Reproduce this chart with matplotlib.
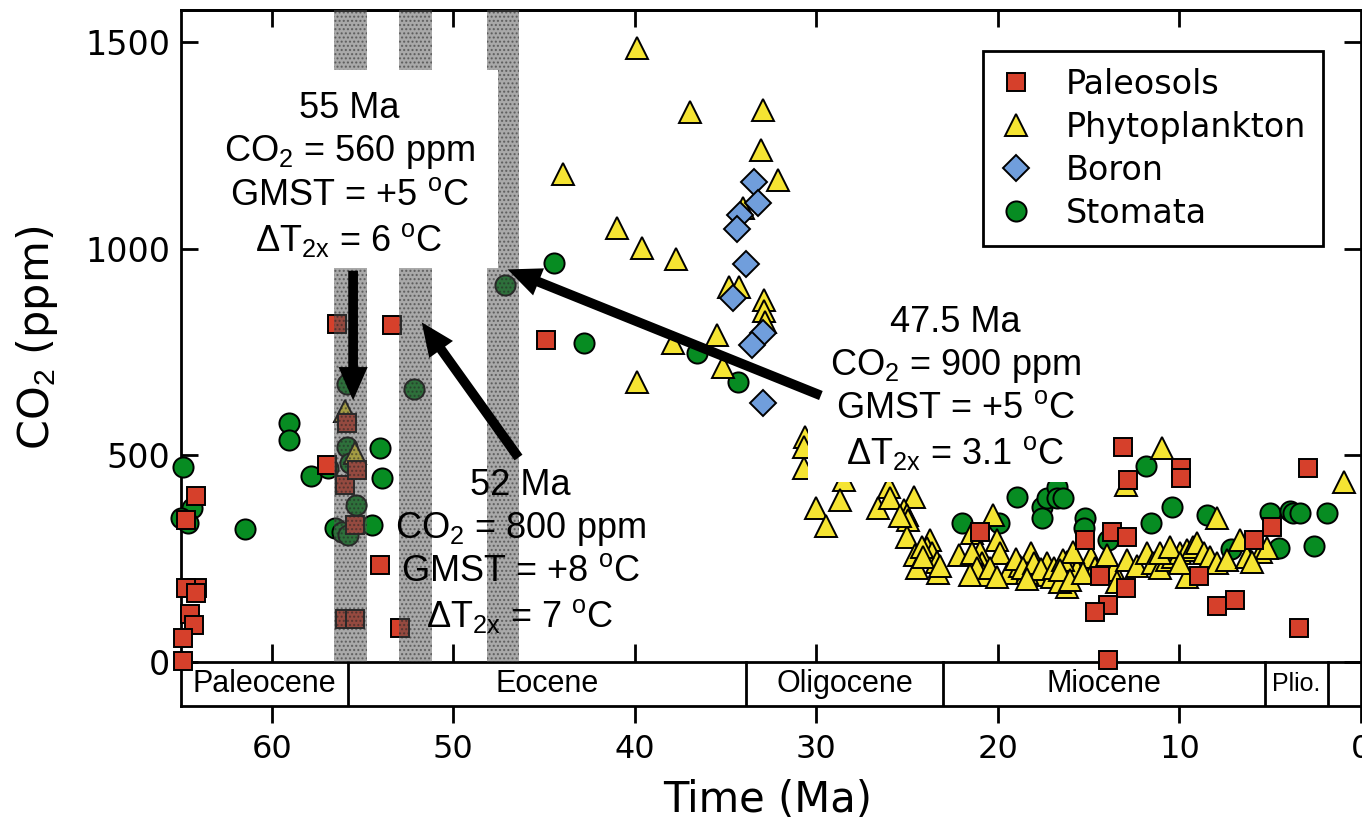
import matplotlib
matplotlib.use('Agg')
import matplotlib.pyplot as plt
from matplotlib.lines import Line2D
from matplotlib.patches import Rectangle, FancyArrowPatch

plt.rcParams['font.family'] = ['DejaVu Sans']
plt.rcParams['mathtext.fontset'] = 'custom'
plt.rcParams['mathtext.rm'] = 'Liberation Sans'
plt.rcParams['mathtext.it'] = 'Liberation Sans:italic'
plt.rcParams['mathtext.bf'] = 'Liberation Sans:bold'

# CO2 proxy data (age in Ma, CO2 in ppm)
paleosol_age = [64.17, 64.7, 64.1, 64.7, 64.2, 64.5, 64.3, 64.9, 64.9,
                56.97, 55.96, 55.32, 55.87, 55.41, 54.04, 55.96, 55.41, 52.93,
                56.4, 53.37, 44.91,
                20.98, 15.19, 13.12, 9.92, 9.92, 12.81, 2.94, 4.91, 13.72, 12.9,
                14.37, 12.93, 13.91, 14.64, 8.95, 7.94, 6.93, 3.44, 13.91, 5.92]
paleosol_co2 = [401, 344, 178, 180, 166, 115, 89, 57, 3,
                477, 428, 464, 577, 331, 235, 103, 103, 81,
                818, 815, 779,
                315, 295, 521, 469, 444, 440, 469, 327, 315, 302,
                208, 178, 138, 120, 208, 136, 150, 81, 5, 295]

phyto_age = [55.96, 55.41,
             39.9, 36.96, 32.92, 33.06, 43.97, 32.13, 34.06, 41.0, 39.58, 37.73,
             34.84, 34.24, 32.88, 32.88, 32.82, 35.45, 37.91, 35.16, 39.9,
             30.6, 30.7, 30.7,
             28.5, 26.02, 30.01, 28.69, 29.46, 26.58, 25.97, 24.61, 25.2, 25.02,
             24.93, 25.02, 23.73, 23.9, 23.64, 24.56, 24.47, 23.28, 23.37, 22.17,
             25.39, 24.19, 24.1, 23.18,
             21.43, 20.25, 20.98, 20.89, 20.8, 20.06, 19.88, 19.42, 18.2, 17.77,
             17.3, 16.75, 16.2, 16.2, 15.65,
             21.43, 21.16, 21.53, 20.43, 20.06, 18.77, 18.41, 16.39,
             19.0, 18.6, 18.0, 17.6, 17.0, 16.9, 18.4,
             10.97, 12.93, 0.92, 7.94,
             16.4, 16.57, 14.9, 14.18, 13.63, 13.44, 12.9, 12.35, 11.8, 11.44,
             11.06, 10.69, 10.33, 9.96, 9.59, 9.23, 9.04, 8.67, 8.3, 9.59,
             7.94, 7.4, 6.65, 6.29, 5.53, 5.17, 6.02, 15.84, 14.64, 14.0,
             11.06, 10.51, 9.96, 16.57, 16.02, 15.29]
phyto_co2 = [606, 505,
             1485, 1331, 1335, 1239, 1181, 1166, 1098, 1049, 1002, 974,
             908, 908, 876, 848, 823, 791, 771, 714, 678,
             545, 469, 520,
             440, 424, 372, 392, 329, 372, 396, 400, 368, 356,
             344, 303, 295, 275, 263, 259, 227, 215, 243, 259,
             352, 279, 255, 231,
             311, 356, 267, 239, 210, 295, 263, 215, 263, 210,
             239, 215, 182, 243, 223,
             263, 227, 210, 227, 206, 231, 215, 215,
             250, 228, 240, 225, 205, 228, 200,
             517, 428, 436, 348,
             247, 194, 255, 239, 223, 194, 247, 231, 263, 239,
             227, 247, 255, 263, 271, 279, 287, 263, 255, 206,
             239, 247, 295, 255, 267, 275, 243, 267, 227, 259,
             263, 279, 239, 223, 198, 215]

boron_age = [33.43, 33.19, 34.2, 34.38, 33.9, 34.58, 32.95, 33.56, 32.92]
boron_co2 = [1162, 1110, 1081, 1047, 962, 880, 795, 767, 626]

stomata_age = [64.9, 64.4, 65.0, 64.6,
               59.05, 59.05, 61.46, 57.85, 56.92, 55.87, 55.69, 54.04, 53.95,
               55.37, 54.46, 56.52, 56.15, 55.78, 52.16, 55.85,
               47.15, 44.45, 42.8, 36.55, 34.33,
               21.99, 19.92, 18.96, 17.58, 17.58, 17.3, 16.75, 16.75, 16.39,
               15.2, 15.25, 13.91, 11.83, 10.42, 11.56, 8.49, 5.04, 3.9, 3.72,
               3.35, 1.88, 4.54, 2.61, 7.17]
stomata_co2 = [471, 372, 348, 336,
               577, 537, 321, 450, 470, 521, 481, 517, 444,
               380, 331, 323, 315, 307, 660, 672,
               912, 966, 771, 747, 678,
               336, 336, 400, 376, 348, 396, 424, 396, 396,
               348, 323, 295, 473, 374, 336, 356, 361, 364, 360,
               361, 361, 275, 281, 273]

# geologic epochs (start, end in Ma)
epoch_names = ['Paleocene', 'Eocene', 'Oligocene', 'Miocene', 'Plio.', '']
epoch_start = [65.0, 55.8, 33.9, 23.0, 5.3, 1.8]
epoch_end = [55.8, 33.9, 23.0, 5.3, 1.8, 0.0]

# hyperthermal events shaded (Ma)
band_start = [56.55, 52.99, 48.16]
band_end = [54.77, 51.2, 46.38]

# annotation boxes
notes = ['55 Ma\nCO$_2$ = 560 ppm\nGMST = +5 $^{\\mathrm{o}}$C\nΔT$_{\\mathrm{2x}}$ = 6 $^{\\mathrm{o}}$C',
         '52 Ma\nCO$_2$ = 800 ppm\nGMST = +8 $^{\\mathrm{o}}$C\nΔT$_{\\mathrm{2x}}$ = 7 $^{\\mathrm{o}}$C',
         '47.5 Ma\nCO$_2$ = 900 ppm\nGMST = +5 $^{\\mathrm{o}}$C\nΔT$_{\\mathrm{2x}}$ = 3.1 $^{\\mathrm{o}}$C']
note_x = [55.74, 46.32, 22.35]
note_y = [1178, 268, 662]
arrow_from = [(55.52, 953), (46.32, 489), (29.61, 642)]
arrow_to = [(55.52, 626), (51.83, 827), (47.15, 952)]

red = '#D6402B'
yellow = '#F5E432'
blue = '#709EDC'
green = '#078C22'

fig = plt.figure(figsize=(13.62, 8.30), dpi=100)
ax = fig.add_axes([181 / 1362, 124 / 830, 1180 / 1362, 696 / 830])
ax.set_xlim(65, 0)
ax.set_ylim(-106.5, 1577)

# data
ax.plot(stomata_age, stomata_co2, 'o', ms=14.5, mfc=green, mec='k', mew=1.4, zorder=3, clip_on=False)
ax.plot(phyto_age, phyto_co2, '^', ms=16, mfc=yellow, mec='k', mew=1.4, zorder=3, clip_on=False)
ax.plot(boron_age, boron_co2, 'D', ms=13, mfc=blue, mec='k', mew=1.4, zorder=3, clip_on=False)
ax.plot(paleosol_age, paleosol_co2, 's', ms=12.5, mfc=red, mec='k', mew=1.4, zorder=3, clip_on=False)

# shaded event bands (drawn over the points)
for x0, x1 in zip(band_start, band_end):
    ax.add_patch(Rectangle((x0, 0), x1 - x0, 1700, facecolor='#555555', alpha=0.5,
                           edgecolor='#222222', hatch='....', lw=0, zorder=4))

# epoch bar
ax.plot([65, 0], [0, 0], color='k', lw=2, zorder=2)
for name, s, e in zip(epoch_names, epoch_start, epoch_end):
    if s < 65:
        ax.plot([s, s], [-106.5, 0], color='k', lw=2, zorder=2)
    if name:
        fs = 18 if name == 'Plio.' else 22
        ax.text((s + e) / 2, -53, name, ha='center', va='center', fontsize=fs,
                family='Liberation Sans', zorder=2)
ax.vlines([60, 50, 40, 30, 20, 10], 0, 44, colors='k', lw=2, zorder=2)

# white boxes behind the notes
ax.add_patch(Rectangle((63.9, 953), 47.53 - 63.9, 1432 - 953, facecolor='white', lw=0, zorder=6))
ax.add_patch(Rectangle((30.45, 435.5), 14.2 - 30.45, 917 - 435.5, facecolor='white', lw=0, zorder=6))

for txt, x, y in zip(notes, note_x, note_y):
    ax.text(x, y, txt, ha='center', va='center', fontsize=26, family='Liberation Sans',
            linespacing=1.25, zorder=7)

for a, b in zip(arrow_from, arrow_to):
    ax.add_patch(FancyArrowPatch(a, b, arrowstyle='simple,head_length=1.2,head_width=1.05,tail_width=0.35',
                                 mutation_scale=20, color='k', lw=0, zorder=8))

# axes styling
for sp in ax.spines.values():
    sp.set_linewidth(2)
ax.set_yticks([0, 500, 1000, 1500])
ax.tick_params(axis='y', direction='in', length=12, width=2, left=True, right=True,
               labelsize=24, pad=8)
ax.set_xticks([60, 50, 40, 30, 20, 10, 0])
ax.tick_params(axis='x', direction='out', length=12, width=2, bottom=True, top=False,
               labelsize=23, pad=8)
top = ax.secondary_xaxis('top')
top.set_xticks([60, 50, 40, 30, 20, 10])
top.tick_params(direction='in', length=12, width=2, labeltop=False)
top.spines['top'].set_linewidth(2)

fig.text(768 / 1362, 1 - 800 / 830, 'Time (Ma)', ha='center', va='center', fontsize=30)
fig.text(37 / 1362, 1 - 338 / 830, 'CO$_2$ (ppm)', ha='center', va='center', fontsize=31,
         rotation=90)

handles = [Line2D([], [], ls='', marker='s', ms=12.5, mfc=red, mec='k', mew=1.4),
           Line2D([], [], ls='', marker='^', ms=16, mfc=yellow, mec='k', mew=1.4),
           Line2D([], [], ls='', marker='D', ms=13, mfc=blue, mec='k', mew=1.4),
           Line2D([], [], ls='', marker='o', ms=14.5, mfc=green, mec='k', mew=1.4)]
leg = ax.legend(handles, ['Paleosols', 'Phytoplankton', 'Boron', 'Stomata'],
                loc='upper right', bbox_to_anchor=(1323 / 1362, 1 - 51 / 830),
                bbox_transform=fig.transFigure, borderaxespad=0, fancybox=False,
                framealpha=1, edgecolor='k', prop={'size': 24}, labelspacing=0.3,
                handletextpad=1.0, handlelength=1.0, borderpad=0.5)
leg.get_frame().set_linewidth(2)
leg.set_zorder(10)

fig.savefig('out.png', dpi=100)
